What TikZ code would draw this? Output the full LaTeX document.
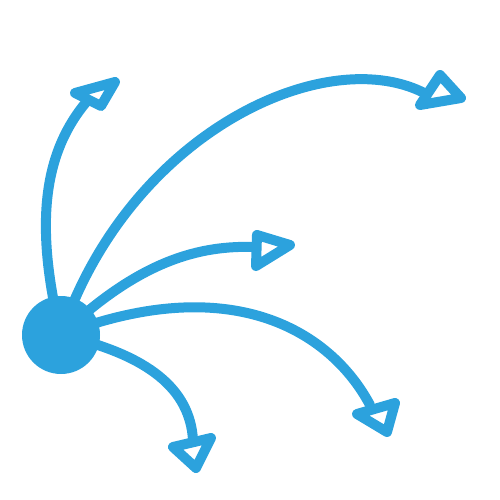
\documentclass[tikz,border=0pt]{standalone}
\usetikzlibrary{backgrounds}
\definecolor{skyblue}{RGB}{44,162,221}
\begin{document}
\begin{tikzpicture}[x=1pt, y=-1pt,
    shaft/.style={draw=skyblue, line width=10pt, line cap=round},
    arrowhead/.style={draw=skyblue, fill=white, line width=10pt, line join=round}]
        \useasboundingbox (0,0) rectangle (500,500);

        % hub in the lower left
        \node[circle, fill=skyblue, minimum size=78pt, inner sep=0pt] (hub) at (61,335) {};

        % tips of the five arrows
        \coordinate (tipa) at (88,100);
        \coordinate (tipb) at (428,95);
        \coordinate (tipc) at (256,247);
        \coordinate (tipd) at (370,405);
        \coordinate (tipe) at (193,440);

        % curved shafts, behind the hub
        \begin{scope}[on background layer]
            \draw[shaft] (hub.center) .. controls (33,220) and (45,150) .. (tipa);
            \draw[shaft] (hub.center) .. controls (130,130) and (330,40) .. (tipb);
            \draw[shaft] (hub.center) .. controls (140,260) and (200,245) .. (tipc);
            \draw[shaft] (hub.center) .. controls (230,270) and (330,330) .. (tipd);
            \draw[shaft] (hub.center) .. controls (150,355) and (190,390) .. (tipe);
        \end{scope}

        % open triangle heads
        \foreach \pa/\pb/\pc in {{(75,93)}/{(115,82)}/{(101,106)},
                                 {(440,75)}/{(461,98)}/{(420,105)},
                                 {(257,235)}/{(290,245)}/{(256,266)},
                                 {(395,403)}/{(357,414)}/{(387,432)},
                                 {(211,438)}/{(173,447)}/{(196,468)}} {
            \draw[arrowhead] \pa -- \pb -- \pc -- cycle;
        }

\end{tikzpicture}
\end{document}
